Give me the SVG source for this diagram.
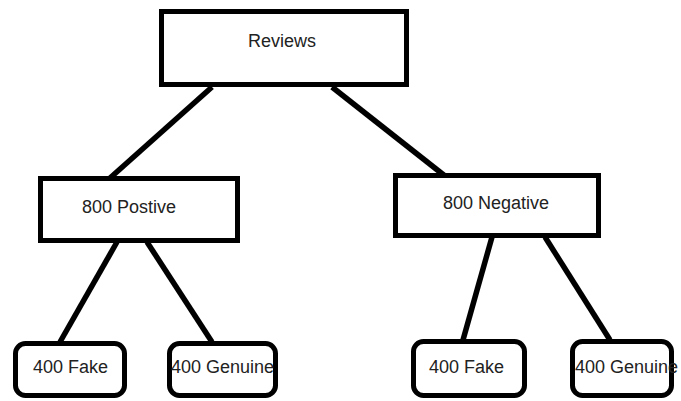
<svg xmlns="http://www.w3.org/2000/svg" width="681" height="401" viewBox="0 0 681 401">
<style>
.box{fill:#fff;stroke:#000;stroke-width:5}
.lbl{font-family:"Liberation Sans",Arial,sans-serif;font-size:18px;fill:#222}
.conn{stroke:#000;stroke-width:5.5;stroke-linecap:butt;fill:none}
</style>
<rect width="681" height="401" fill="#fff"/>
<g id="connectors">
<line class="conn" x1="212" y1="87" x2="110" y2="178"/>
<line class="conn" x1="332" y1="87" x2="445" y2="176"/>
<line class="conn" x1="117" y1="242" x2="60" y2="342"/>
<line class="conn" x1="147" y1="242" x2="212" y2="342"/>
<line class="conn" x1="492" y1="237" x2="463" y2="340"/>
<line class="conn" x1="545" y1="237" x2="610" y2="340"/>
</g>
<g id="reviews">
<rect class="box" x="161.5" y="11.5" width="245" height="73"/>
<text class="lbl" x="248" y="47">Reviews</text>
</g>
<g id="positive">
<rect class="box" x="40.5" y="178.5" width="197" height="62"/>
<text class="lbl" x="82" y="213">800 Postive</text>
</g>
<g id="negative">
<rect class="box" x="395.5" y="175.5" width="203" height="60"/>
<text class="lbl" x="443" y="209">800 Negative</text>
</g>
<g id="fake1">
<rect class="box" x="15.5" y="343.5" width="109" height="52" rx="10"/>
<text class="lbl" x="33" y="373">400 Fake</text>
</g>
<g id="genuine1">
<rect class="box" x="169.5" y="343.5" width="106" height="52" rx="10"/>
<text class="lbl" x="171" y="373">400 Genuine</text>
</g>
<g id="fake2">
<rect class="box" x="413.5" y="341.5" width="111" height="54" rx="10"/>
<text class="lbl" x="429" y="373">400 Fake</text>
</g>
<g id="genuine2">
<rect class="box" x="572.5" y="341.5" width="99" height="54" rx="10"/>
<text class="lbl" x="575" y="373">400 Genuine</text>
</g>
</svg>
